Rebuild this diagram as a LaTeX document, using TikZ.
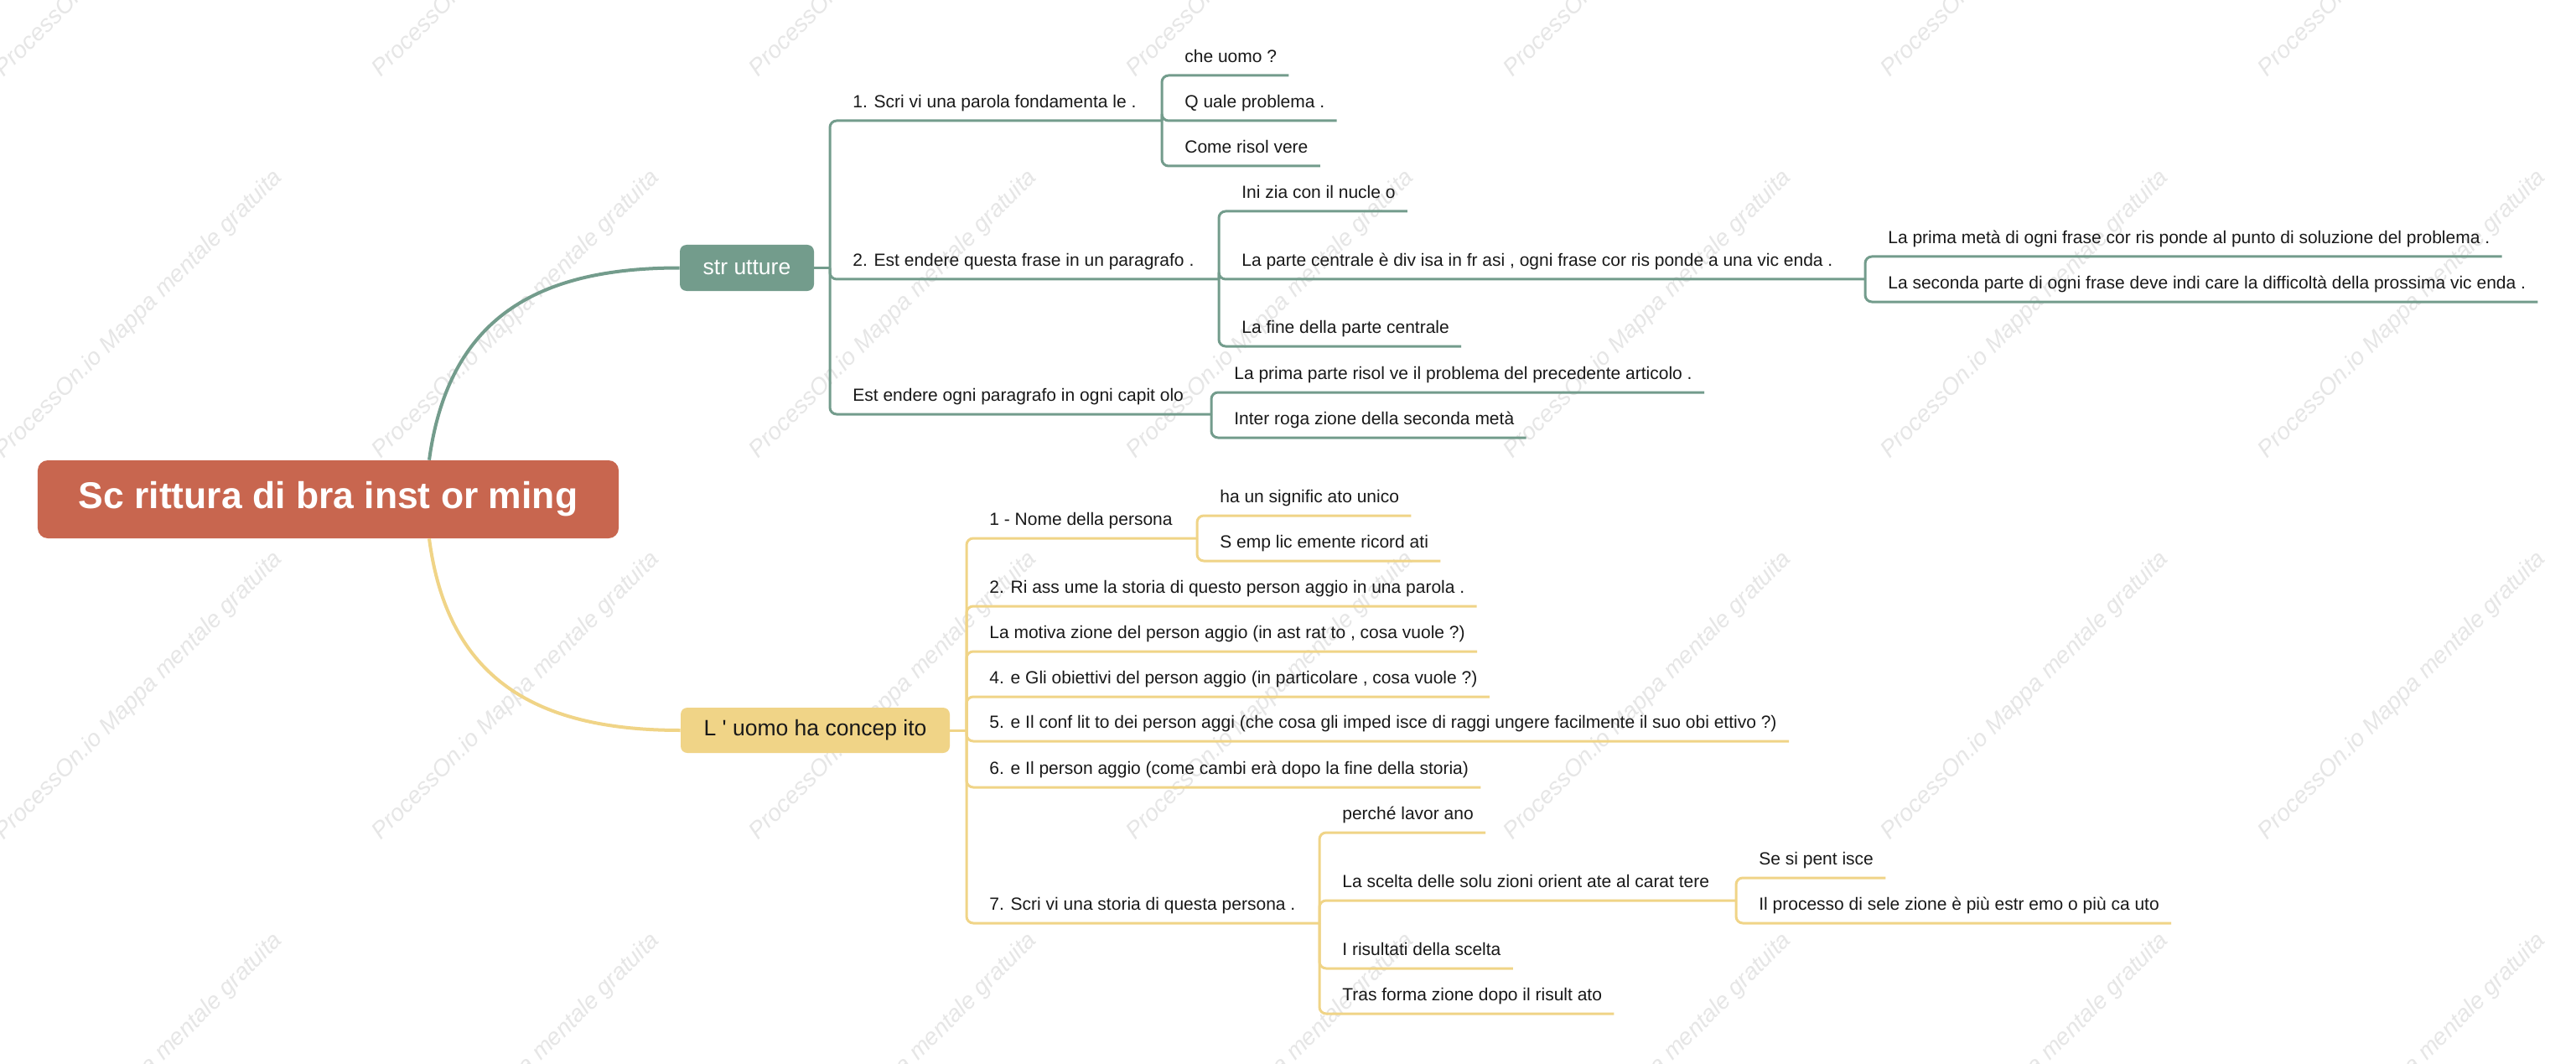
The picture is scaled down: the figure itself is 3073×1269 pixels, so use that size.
\documentclass[tikz,border=0pt]{standalone}
\usepackage{fontspec}
\setmainfont{Liberation Sans}
\usepackage{tikz}
\definecolor{mapRed}{RGB}{200,102,79}
\definecolor{mapGreen}{RGB}{115,156,140}
\definecolor{mapYellow}{RGB}{240,212,135}
\definecolor{leafInk}{RGB}{25,25,25}
\definecolor{markGray}{RGB}{230,230,230}
\begin{document}
\begin{tikzpicture}[x=0.2mm,y=-0.2mm,
  gline/.style={draw=mapGreen,line width=0.6mm,rounded corners=1.6mm},
  yline/.style={draw=mapYellow,line width=0.6mm,rounded corners=1.6mm},
  leaf/.style={anchor=south west,inner xsep=2.8mm,inner ysep=3mm,text depth=0pt,text=leafInk,font=\fontsize{11.95pt}{14pt}\selectfont},
  branch/.style={rounded corners=1.6mm,inner sep=0pt,font=\fontsize{15.08pt}{18pt}\selectfont},
  wmark/.style={rotate=45,text=markGray,font=\fontsize{16pt}{19pt}\selectfont\itshape}]
\useasboundingbox (0,0) rectangle (3073,1269);
\fill[white] (0,0) rectangle (3073,1269);
\begin{scope}
\clip (0,0) rectangle (3073,1269);
\foreach \i in {0,...,6} \foreach \j in {0,...,3}
  \node[wmark] (wm\i\j) at ({166+450*\i},{-80+455*\j}) {ProcessOn.io Mappa mentale gratuita};
\end{scope}
\node[fill=mapRed,rounded corners=2.4mm,minimum width=138.6mm,minimum height=18.6mm,text=white,font=\fontsize{25.3pt}{30pt}\selectfont\bfseries] (root) at (391.5,595.5) {Sc rittura di bra inst or ming};
\node[branch,fill=mapGreen,text=white,minimum width=32mm,minimum height=11mm] (str) at (891,319.5) {str utture};
\node[branch,fill=mapYellow,text=leafInk,minimum width=64.2mm,minimum height=10.8mm] (uomo) at (972.5,871) {L \textquotesingle{} uomo ha concep ito};
\draw[mapGreen,line width=0.8mm] ([xshift=24.1mm]root.north) .. controls +(23,-169) and +(-171,0) .. (str.west);
\draw[mapYellow,line width=0.8mm] ([xshift=24.1mm]root.south) .. controls +(22,168) and +(-172,0) .. (uomo.west);

% str utture
\coordinate (sT) at (990,319.5);
\node[leaf] (a1) at (1003,144) {1. Scri vi una parola fondamenta le .};
\node[leaf] (a2) at (1003,333) {2. Est endere questa frase in un paragrafo .};
\node[leaf] (a3) at (1003,494) {Est endere ogni paragrafo in ogni capit olo};
\coordinate (ja1) at (1386,144);\coordinate (ja2) at (1454,333);\coordinate (ja3) at (1445,494);
\node[leaf] (a11) at (1399,90) {che uomo ?};
\node[leaf] (a12) at (1399,144) {Q uale problema .};
\node[leaf] (a13) at (1399,198) {Come risol vere};
\node[leaf] (a21) at (1467,252) {Ini zia con il nucle o};
\node[leaf] (a22) at (1467,333) {La parte centrale è div isa in fr asi , ogni frase cor ris ponde a una vic enda .};
\node[leaf] (a23) at (1467,413) {La fine della parte centrale};
\coordinate (ja22) at (2225,333);
\node[leaf] (a221) at (2238,306) {La prima metà di ogni frase cor ris ponde al punto di soluzione del problema .};
\node[leaf] (a222) at (2238,360) {La seconda parte di ogni frase deve indi care la difficoltà della prossima vic enda .};
\node[leaf] (a31) at (1458,468) {La prima parte risol ve il problema del precedente articolo .};
\node[leaf] (a32) at (1458,522) {Inter roga zione della seconda metà};
\draw[gline] (str.east) -- (sT);
\draw[gline] (sT) |- (ja1);\draw[gline] (sT) |- (ja2);\draw[gline] (sT) |- (ja3);
\draw[gline] (ja1) |- (a11.south east);\draw[gline] (ja1) |- (a12.south east);\draw[gline] (ja1) |- (a13.south east);
\draw[gline] (ja2) |- (a21.south east);\draw[gline] (ja2) |- (ja22);\draw[gline] (ja2) |- (a23.south east);
\draw[gline] (ja22) |- (a221.south east);\draw[gline] (ja22) |- (a222.south east);
\draw[gline] (ja3) |- (a31.south east);\draw[gline] (ja3) |- (a32.south east);

% L'uomo ha concepito
\coordinate (yT) at (1153,871);
\node[leaf] (b1) at (1166,642) {1 - Nome della persona};
\node[leaf] (b2) at (1166,723) {2. Ri ass ume la storia di questo person aggio in una parola .};
\node[leaf] (b3) at (1166,777) {La motiva zione del person aggio (in ast rat to , cosa vuole ?)};
\node[leaf] (b4) at (1166,831) {4. e Gli obiettivi del person aggio (in particolare , cosa vuole ?)};
\node[leaf] (b5) at (1166,884) {5. e Il conf lit to dei person aggi (che cosa gli imped isce di raggi ungere facilmente il suo obi ettivo ?)};
\node[leaf] (b6) at (1166,939) {6. e Il person aggio (come cambi erà dopo la fine della storia)};
\node[leaf] (b7) at (1166,1101) {7. Scri vi una storia di questa persona .};
\coordinate (jb1) at (1428,642);\coordinate (jb7) at (1574,1101);
\node[leaf] (b11) at (1441,615) {ha un signific ato unico};
\node[leaf] (b12) at (1441,669) {S emp lic emente ricord ati};
\node[leaf] (b71) at (1587,993) {perché lavor ano};
\node[leaf] (b72) at (1587,1074) {La scelta delle solu zioni orient ate al carat tere};
\node[leaf] (b73) at (1587,1155) {I risultati della scelta};
\node[leaf] (b74) at (1587,1209) {Tras forma zione dopo il risult ato};
\coordinate (jb72) at (2071,1074);
\node[leaf] (b721) at (2084,1047) {Se si pent isce};
\node[leaf] (b722) at (2084,1101) {Il processo di sele zione è più estr emo o più ca uto};
\draw[yline] (uomo.east) -- (yT);
\draw[yline] (yT) |- (jb1);\draw[yline] (yT) |- (b2.south east);\draw[yline] (yT) |- (b3.south east);
\draw[yline] (yT) |- (b4.south east);\draw[yline] (yT) |- (b5.south east);\draw[yline] (yT) |- (b6.south east);
\draw[yline] (yT) |- (jb7);
\draw[yline] (jb1) |- (b11.south east);\draw[yline] (jb1) |- (b12.south east);
\draw[yline] (jb7) |- (b71.south east);\draw[yline] (jb7) |- (jb72);\draw[yline] (jb7) |- (b73.south east);\draw[yline] (jb7) |- (b74.south east);
\draw[yline] (jb72) |- (b721.south east);\draw[yline] (jb72) |- (b722.south east);
\end{tikzpicture}
\end{document}
